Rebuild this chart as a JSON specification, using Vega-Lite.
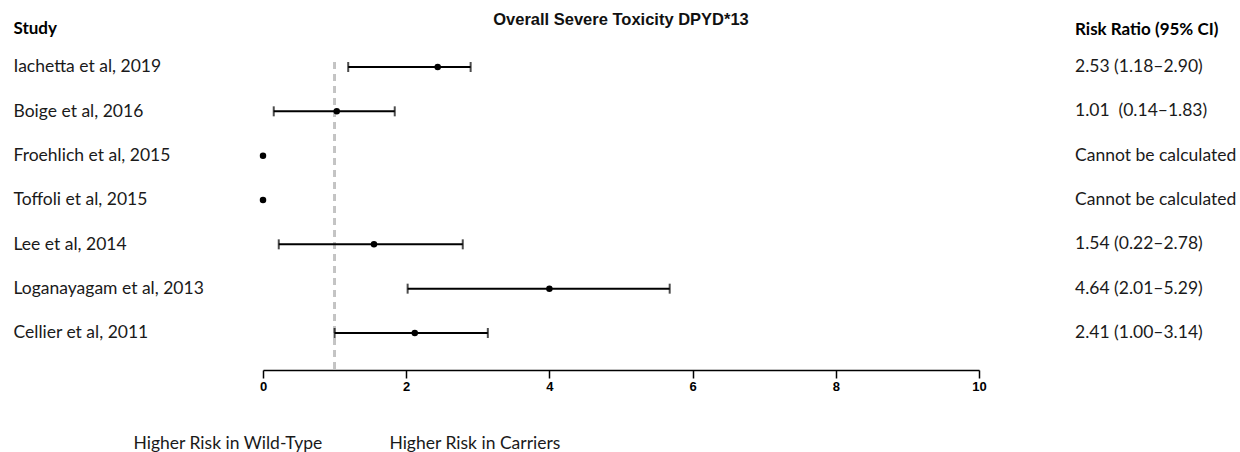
{
  "$schema": "https://vega.github.io/schema/vega-lite/v6.json",
  "padding": {"left": 13, "top": 11, "right": 0, "bottom": 0},
  "spacing": 96,
  "bounds": "flush",
  "config": {"view": {"stroke": null}, "font": "Lato"},
  "data": {
    "values": [
      {"study": "Iachetta et al, 2019", "rr": 2.44, "lo": 1.19, "hi": 2.9, "label": "2.53 (1.18–2.90)"},
      {"study": "Boige et al, 2016", "rr": 1.03, "lo": 0.15, "hi": 1.84, "label": "1.01\u00a0 (0.14–1.83)"},
      {"study": "Froehlich et al, 2015", "rr": 0, "lo": null, "hi": null, "label": "Cannot be calculated"},
      {"study": "Toffoli et al, 2015", "rr": 0, "lo": null, "hi": null, "label": "Cannot be calculated"},
      {"study": "Lee et al, 2014", "rr": 1.55, "lo": 0.22, "hi": 2.79, "label": "1.54 (0.22–2.78)"},
      {"study": "Loganayagam et al, 2013", "rr": 4.0, "lo": 2.02, "hi": 5.68, "label": "4.64 (2.01–5.29)"},
      {"study": "Cellier et al, 2011", "rr": 2.12, "lo": 1.0, "hi": 3.14, "label": "2.41 (1.00–3.14)"}
    ]
  },
  "hconcat": [
    {
      "width": 716,
      "height": 308,
      "title": {
        "text": "Overall Severe Toxicity DPYD*13",
        "font": "Liberation Sans",
        "fontSize": 16.5,
        "fontWeight": "bold",
        "anchor": "middle",
        "frame": "group",
        "baseline": "alphabetic",
        "offset": -22,
        "color": "#111111"
      },
      "layer": [
        {
          "mark": {"type": "rule", "color": "#c4c4c4", "strokeDash": [7, 5], "strokeWidth": 2},
          "encoding": {
            "x": {"datum": 1, "type": "quantitative", "scale": {"domain": [0, 10], "nice": false, "zero": false}}
          }
        },
        {
          "transform": [{"filter": "datum.lo != null"}],
          "mark": {"type": "rule", "color": "black", "strokeWidth": 2},
          "encoding": {
            "y": {
              "field": "study", "type": "nominal", "sort": null,
              "scale": {
                "type": "point", "padding": 0.4737, "align": 0.119,
                "domain": ["Iachetta et al, 2019", "Boige et al, 2016", "Froehlich et al, 2015", "Toffoli et al, 2015", "Lee et al, 2014", "Loganayagam et al, 2013", "Cellier et al, 2011"]
              },
              "axis": {
                "title": "Study",
                "titleAngle": 0,
                "titleAlign": "left",
                "titleBaseline": "alphabetic",
                "titleX": -250,
                "titleY": -29,
                "titleFont": "Lato",
                "titleFontSize": 17,
                "titleFontWeight": "bold",
                "titleColor": "black",
                "domain": false,
                "ticks": false,
                "grid": false,
                "labelPadding": 250,
                "labelAlign": "left",
                "labelBaseline": "middle",
                "labelLimit": 400,
                "labelFont": "Lato",
                "labelFontSize": 17.5,
                "labelColor": "#1a1a1a"
              }
            },
            "x": {
              "field": "lo", "type": "quantitative",
              "scale": {"domain": [0, 10], "nice": false, "zero": false},
              "axis": {
                "values": [0, 2, 4, 6, 8, 10],
                "format": "d",
                "labelFlush": false,
                "grid": false,
                "domainColor": "black",
                "domainWidth": 1.5,
                "tickColor": "black",
                "tickWidth": 1.5,
                "tickSize": 8,
                "labelFont": "Liberation Sans Narrow, Liberation Sans",
                "labelFontWeight": "bold",
                "labelFontSize": 13,
                "labelColor": "black",
                "labelPadding": 2,
                "title": "Higher Risk in Wild-Type\u00a0\u00a0\u00a0\u00a0\u00a0\u00a0\u00a0\u00a0\u00a0\u00a0\u00a0\u00a0\u00a0\u00a0\u00a0Higher Risk in Carriers",
                "titleFont": "Lato",
                "titleFontSize": 17.5,
                "titleFontWeight": "normal",
                "titleColor": "#1a1a1a",
                "titleAnchor": "start",
                "titleAlign": "left",
                "titleBaseline": "alphabetic",
                "titleX": -130,
                "titleY": 78
              }
            },
            "x2": {"field": "hi"}
          }
        },
        {
          "transform": [{"filter": "datum.lo != null"}],
          "mark": {"type": "tick", "color": "black", "thickness": 2, "size": 10},
          "encoding": {
            "y": {"field": "study", "type": "nominal", "sort": null},
            "x": {"field": "lo", "type": "quantitative"}
          }
        },
        {
          "transform": [{"filter": "datum.hi != null"}],
          "mark": {"type": "tick", "color": "black", "thickness": 2, "size": 10},
          "encoding": {
            "y": {"field": "study", "type": "nominal", "sort": null},
            "x": {"field": "hi", "type": "quantitative"}
          }
        },
        {
          "mark": {"type": "circle", "color": "black", "opacity": 1, "size": 42},
          "encoding": {
            "y": {"field": "study", "type": "nominal", "sort": null},
            "x": {"field": "rr", "type": "quantitative"}
          }
        }
      ]
    },
    {
      "width": 165,
      "height": 308,
      "title": {
        "text": "Risk Ratio (95% CI)",
        "anchor": "start",
        "font": "Lato",
        "fontSize": 17,
        "fontWeight": "bold",
        "offset": 6,
        "baseline": "alphabetic",
        "color": "black"
      },
      "mark": {"type": "text", "align": "left", "baseline": "middle", "font": "Lato", "fontSize": 17.5, "color": "#1a1a1a"},
      "encoding": {
        "y": {
          "field": "study", "type": "nominal", "sort": null,
          "scale": {
            "type": "point", "padding": 0.4737, "align": 0.119,
            "domain": ["Iachetta et al, 2019", "Boige et al, 2016", "Froehlich et al, 2015", "Toffoli et al, 2015", "Lee et al, 2014", "Loganayagam et al, 2013", "Cellier et al, 2011"]
          },
          "axis": null
        },
        "x": {"datum": 0, "type": "quantitative", "scale": {"domain": [0, 1]}, "axis": null},
        "text": {"field": "label"}
      }
    }
  ]
}
